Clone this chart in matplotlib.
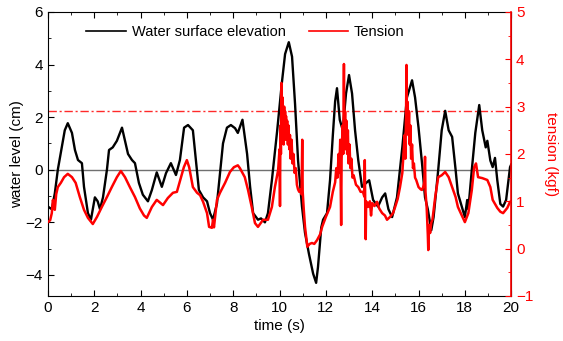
import matplotlib
matplotlib.use("Agg")
import matplotlib.pyplot as plt
from matplotlib.ticker import MultipleLocator
from matplotlib.lines import Line2D

plt.rcParams["font.family"] = ["Liberation Sans", "DejaVu Sans"]
plt.rcParams["font.size"] = 11

# water surface elevation (cm)
t_water = [0, 0.17, 0.3, 0.43, 0.6, 0.73, 0.86, 1.04, 1.17, 1.3, 1.47, 1.56, 1.73, 1.86,
           2.03, 2.15, 2.25, 2.38, 2.55, 2.64, 2.8, 2.98, 3.2, 3.33, 3.46, 3.63, 3.76, 3.93,
           4.1, 4.32, 4.49, 4.7, 4.92, 5.1, 5.31, 5.53, 5.7, 5.88, 6.05, 6.26, 6.39, 6.52,
           6.7, 6.87, 7.0, 7.13, 7.3, 7.43, 7.56, 7.73, 7.9, 8.08, 8.2, 8.4, 8.6, 8.73,
           8.86, 9.07, 9.2, 9.37, 9.5, 9.67, 9.9, 10.1, 10.24, 10.4, 10.54, 10.67, 10.8,
           10.97, 11.1, 11.27, 11.45, 11.58, 11.66, 11.8, 11.88, 12.05, 12.18, 12.3, 12.4,
           12.48, 12.6, 12.73, 12.87, 13.0, 13.13, 13.26, 13.4, 13.56, 13.74, 13.87, 14.04,
           14.25, 14.43, 14.56, 14.7, 14.86, 15.07, 15.3, 15.5, 15.72, 15.85, 16.0, 16.15,
           16.28, 16.4, 16.55, 16.65, 16.85, 17.0, 17.15, 17.3, 17.45, 17.6, 17.7, 17.9,
           18.0, 18.1, 18.15, 18.3, 18.45, 18.62, 18.75, 18.9, 18.97, 19.1, 19.2, 19.3,
           19.4, 19.53, 19.65, 19.78, 19.95, 20.0]
water = [-1.4, -1.5, -0.9, 0.0, 0.85, 1.5, 1.77, 1.4, 0.75, 0.37, 0.25, -0.65, -1.65, -1.9,
         -1.05, -1.2, -1.5, -1.05, 0.0, 0.75, 0.85, 1.1, 1.6, 1.1, 0.6, 0.37, 0.25, -0.5,
         -0.95, -1.2, -0.77, -0.1, -0.65, -0.13, 0.25, -0.2, 0.37, 1.6, 1.7, 1.5, 0.37, -0.77,
         -1.05, -1.2, -1.65, -1.9, -1.28, -0.13, 1.0, 1.6, 1.7, 1.58, 1.4, 1.9, 0.6, -0.65,
         -1.65, -1.9, -1.85, -2.0, -1.65, -0.4, 1.5, 3.3, 4.4, 4.85, 4.3, 2.5, 0.35,
         -1.4, -2.4, -3.2, -3.95, -4.3, -3.7, -2.2, -1.9, -1.65, -0.4, 1.3, 2.6,
         3.1, 1.9, 1.5, 2.9, 3.6, 2.9, 1.5, 0.35, -0.65, -0.5, -0.4, -1.15,
         -1.4, -1.05, -0.9, -1.5, -1.8, -1.05, 0.85, 2.75, 3.4, 2.75, 1.6, 0.25,
         -1.05, -1.5, -2.3, -1.8, 0.0, 1.5, 2.24, 1.5, 1.25, 0.0, -0.9, -1.5,
         -1.8, -1.15, -1.5, 0.0, 1.4, 2.46, 1.5, 0.85, 1.1, 0.35, 0.1, 0.45,
         -0.4, -1.3, -1.4, -1.15, 0.1, 0.2]

# mooring line tension (kgf)
t_tension = [0, 0.1, 0.17, 0.22, 0.26, 0.3, 0.36, 0.43, 0.56, 0.7, 0.86, 1.04, 1.2, 1.38,
             1.56, 1.73, 1.94, 2.12, 2.33, 2.55, 2.76, 2.98, 3.15, 3.33, 3.54, 3.76, 3.97,
             4.15, 4.27, 4.49, 4.7, 4.97, 5.18, 5.4, 5.57, 5.75, 5.87, 6.0, 6.1, 6.26, 6.44,
             6.57, 6.7, 6.87, 6.96, 7.08, 7.13, 7.17, 7.2, 7.3, 7.43, 7.65, 7.86, 8.03, 8.2,
             8.29, 8.5, 8.64, 8.8, 8.94, 9.07, 9.29, 9.5, 9.67, 9.8, 9.94,
             10.0, 10.02, 10.04, 10.06, 10.08, 10.1, 10.12, 10.14, 10.16, 10.18, 10.2, 10.22,
             10.24, 10.26, 10.28, 10.3, 10.33, 10.36, 10.39, 10.42, 10.45, 10.48, 10.52,
             10.56, 10.6, 10.65, 10.7, 10.75, 10.8, 10.85, 10.9, 10.95, 10.98, 11.0, 11.05,
             11.1, 11.2, 11.3, 11.4, 11.5, 11.62, 11.75, 11.84, 12.0, 12.18, 12.3,
             12.4, 12.45, 12.5, 12.55, 12.58, 12.62, 12.66, 12.68, 12.72, 12.75, 12.78, 12.8,
             12.83, 12.86, 12.89, 12.92, 12.95, 12.98, 13.02, 13.06, 13.1, 13.15, 13.2, 13.3,
             13.4, 13.5, 13.6, 13.66, 13.68, 13.7, 13.72, 13.74, 13.82, 13.9, 13.95, 14.0,
             14.1, 14.21, 14.3, 14.43, 14.55, 14.64, 14.77, 14.9, 14.99, 15.1, 15.2, 15.3,
             15.35, 15.4, 15.43, 15.46, 15.48, 15.5, 15.53, 15.56, 15.59, 15.62, 15.65, 15.68,
             15.72, 15.76, 15.8, 15.85, 15.9, 16.0, 16.1, 16.15, 16.2, 16.25, 16.28, 16.3,
             16.35, 16.4, 16.42, 16.45, 16.5, 16.55, 16.6, 16.72, 16.85, 17.0, 17.15, 17.3,
             17.45, 17.6, 17.7, 17.9, 18.0, 18.15, 18.3, 18.4, 18.48, 18.57, 18.75, 18.97,
             19.1, 19.2, 19.4, 19.53, 19.65, 19.83, 19.95, 20.0]
tension = [0.56, 0.6, 0.75, 1.03, 0.85, 0.82, 1.15, 1.3, 1.39, 1.51, 1.58, 1.51, 1.39, 1.09,
           0.82, 0.65, 0.52, 0.67, 0.88, 1.09, 1.3, 1.51, 1.64, 1.51, 1.3, 1.09, 0.85,
           0.7, 0.65, 0.88, 1.03, 0.92, 1.07, 1.18, 1.2, 1.51, 1.72, 1.87, 1.72, 1.3, 1.18,
           1.13, 0.99, 0.75, 0.46, 0.44, 0.61, 0.45, 0.58, 1.03, 1.18, 1.39, 1.62, 1.72, 1.76,
           1.7, 1.51, 1.24, 0.88, 0.54, 0.46, 0.61, 0.61, 0.88, 1.3, 1.66,
           2.1, 0.9, 2.6, 2.0, 3.5, 2.3, 3.2, 2.4, 2.9, 2.2, 3.0, 2.5,
           2.9, 2.3, 2.8, 2.4, 2.7, 2.2, 2.6, 2.1, 2.4, 1.9, 2.3,
           1.8, 2.0, 1.6, 1.7, 1.35, 1.25, 1.2, 1.25, 1.15, 2.3, 1.2, 0.8,
           0.46, 0.04, 0.1, 0.12, 0.1, 0.18, 0.3, 0.46, 0.67, 0.88, 1.2,
           1.4, 1.7, 1.5, 2.0, 1.6, 2.3, 0.5, 1.9, 2.6, 2.0, 3.9, 2.3,
           2.9, 2.1, 2.7, 2.0, 2.5, 1.8, 2.2, 1.7, 1.9, 1.5, 1.55, 1.35,
           1.3, 1.2, 1.2, 1.1, 1.87, 0.9, 0.2, 1.0, 0.88, 1.0, 0.7, 0.96,
           0.9, 0.99, 0.85, 0.75, 0.7, 0.61, 0.67, 0.75, 0.88, 1.05, 1.3, 1.6,
           2.0, 2.4, 1.9, 2.8, 3.88, 2.5, 3.1, 2.4, 2.9, 2.2, 2.6, 1.9,
           2.2, 1.7, 1.8, 1.5, 1.45, 1.3, 1.25, 1.24, 1.3, 1.4, 1.94, 1.2,
           0.88, 0.3, -0.03, 0.5, 0.33, 0.55, 0.61, 1.09, 1.51, 1.55, 1.62, 1.51,
           1.3, 1.09, 0.88, 0.67, 0.56, 0.75, 1.24, 1.72, 1.8, 1.51, 1.49, 1.45,
           1.3, 1.03, 0.86, 0.78, 0.75, 0.86, 0.99, 1.0]

threshold_cm = 2.23

fig = plt.figure(figsize=(5.63, 3.41), dpi=100)
ax = fig.add_axes([0.085, 0.132, 0.823, 0.833])
ax2 = ax.twinx()

ax.axhline(0, color="#707070", lw=1.0, zorder=1)
ax.axhline(threshold_cm, color="#ff2a2a", lw=1.0, ls=(0, (6, 2, 1.5, 2)), zorder=1)
ax.plot(t_water, water, color="black", lw=1.7, zorder=2)
ax2.plot(t_tension, tension, color="red", lw=1.8)

ax.set_xlim(0, 20)
ax.set_ylim(-4.8, 6)
ax2.set_ylim(-1, 5)

ax.xaxis.set_major_locator(MultipleLocator(2))
ax.xaxis.set_minor_locator(MultipleLocator(1))
ax.yaxis.set_major_locator(MultipleLocator(2))
ax.yaxis.set_minor_locator(MultipleLocator(1))
ax2.yaxis.set_major_locator(MultipleLocator(1))
ax2.yaxis.set_minor_locator(MultipleLocator(0.5))

ax.tick_params(which="both", direction="in", top=True, right=False)
ax.tick_params(which="major", length=4)
ax.tick_params(which="minor", length=2.5)
ax2.tick_params(which="both", direction="in", colors="red")
ax2.tick_params(which="major", length=4)
ax2.tick_params(which="minor", length=2.5)

for s in ["left", "top", "bottom"]:
    ax2.spines[s].set_visible(False)
ax2.spines["right"].set_color("red")
ax2.spines["right"].set_linewidth(1.2)

ax.set_xlabel("time (s)", labelpad=3)
ax.set_ylabel("water level (cm)", labelpad=1)
ax2.set_ylabel("tension (kgf)", color="red", rotation=-90, labelpad=18)

handles = [Line2D([], [], color="black", lw=1.2), Line2D([], [], color="red", lw=1.2)]
ax.legend(handles, ["Water surface elevation", "Tension"], loc="upper left",
          bbox_to_anchor=(0.055, 1.0), ncol=2, frameon=False, handlelength=2.7,
          handletextpad=0.4, columnspacing=1.6, fontsize=10.5)

fig.savefig("out.png", dpi=100)
